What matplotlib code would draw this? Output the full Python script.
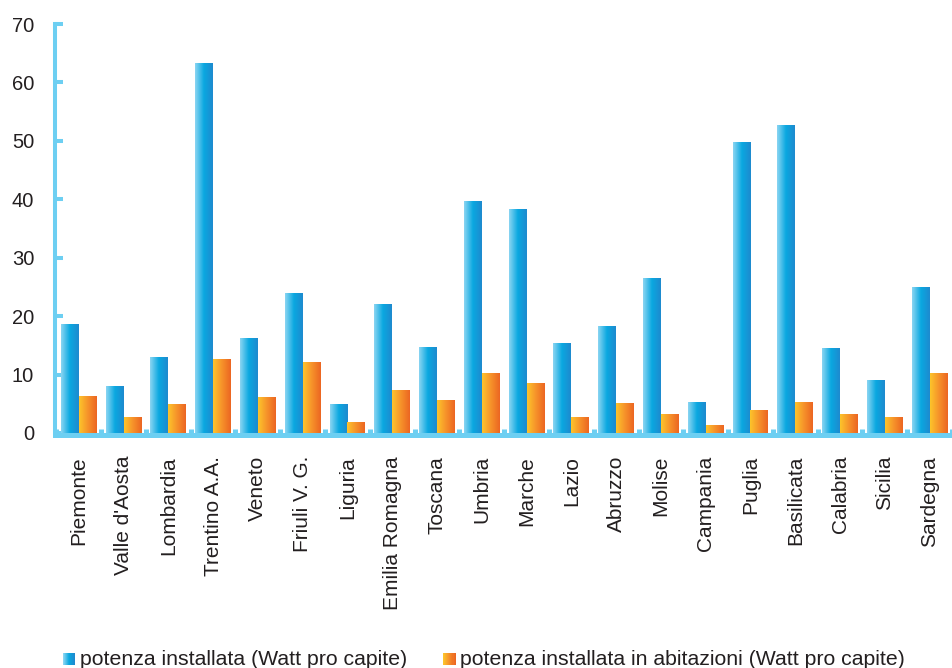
import numpy as np
import matplotlib
matplotlib.use("Agg")
import matplotlib.pyplot as plt
from matplotlib.colors import LinearSegmentedColormap
from matplotlib.patches import Rectangle
from matplotlib.legend_handler import HandlerBase

regions = ["Piemonte", "Valle d'Aosta", "Lombardia", "Trentino A.A.", "Veneto",
           "Friuli V. G.", "Liguria", "Emilia Romagna", "Toscana", "Umbria",
           "Marche", "Lazio", "Abruzzo", "Molise", "Campania", "Puglia",
           "Basilicata", "Calabria", "Sicilia", "Sardegna"]
potenza_totale = [18.6, 8.0, 13.0, 63.2, 16.2, 23.9, 4.8, 22.0, 14.7, 39.6,
                  38.2, 15.4, 18.3, 26.5, 5.3, 49.7, 52.6, 14.5, 8.9, 24.9]
potenza_abitazioni = [6.3, 2.7, 4.8, 12.6, 6.0, 12.1, 1.8, 7.3, 5.6, 10.1,
                      8.4, 2.7, 5.1, 3.2, 1.2, 3.9, 5.3, 3.1, 2.7, 10.1]
y_ticks = [0, 10, 20, 30, 40, 50, 60, 70]
legend_labels = ["potenza installata (Watt pro capite)",
                 "potenza installata in abitazioni (Watt pro capite)"]

AXIS_COL = "#6dcff2"
TEXT_COL = "#231f20"
blue_cmap = LinearSegmentedColormap.from_list(
    "blu", [(0.0, "#8ad5f2"), (0.5, "#0aa8e0"), (1.0, "#1e8acf")])
orange_cmap = LinearSegmentedColormap.from_list(
    "arancio", [(0.0, "#fdc42b"), (0.5, "#f6922a"), (1.0, "#ec6622")])

plt.rcParams["font.family"] = ["Liberation Sans", "DejaVu Sans"]

W, H = 952, 668
fig = plt.figure(figsize=(W / 100, H / 100), dpi=100)
ax = fig.add_axes([55 / W, (H - 433) / H, 1 - 55 / W, (433 - 24) / H])

x = np.arange(len(regions))
bw = 0.4
grad = np.linspace(0, 1, 64).reshape(1, -1)


def gradient_bars(xpos, values, cmap):
    bars = ax.bar(xpos, values, bw, color="none", edgecolor="none", zorder=2)
    for p in bars.patches:
        x0, y0 = p.get_x(), p.get_y()
        ax.imshow(grad, cmap=cmap, aspect="auto", interpolation="bilinear",
                  extent=[x0, x0 + p.get_width(), y0, y0 + p.get_height()],
                  zorder=2)
    return bars


gradient_bars(x - bw / 2, potenza_totale, blue_cmap)
gradient_bars(x + bw / 2, potenza_abitazioni, orange_cmap)

ax.set_xlim(-0.53, 19.33)
ax.set_ylim(0, 70)

for s in ("top", "right"):
    ax.spines[s].set_visible(False)
ax.spines["left"].set_color(AXIS_COL)
ax.spines["left"].set_linewidth(2.9)
ax.spines["bottom"].set_color(AXIS_COL)
ax.spines["bottom"].set_linewidth(3.6)
ax.spines["bottom"].set_position(("outward", 1.5))
ax.spines["bottom"].set_zorder(3)

ax.set_yticks(y_ticks)
ax.set_yticklabels([str(v) for v in y_ticks])
ax.tick_params(axis="y", direction="in", length=5.8, width=2.9,
               color=AXIS_COL, labelsize=14.5, labelcolor=TEXT_COL, pad=15)

ax.set_xticks(x)
ax.set_xticklabels(regions, rotation=90, va="top", ha="center")
ax.tick_params(axis="x", which="major", length=0, labelsize=15,
               labelcolor=TEXT_COL, pad=15)
ax.set_xticks(np.arange(-0.5, len(regions), 1.0), minor=True)
ax.tick_params(axis="x", which="minor", direction="in", length=4.6,
               width=3.6, color=AXIS_COL)


class GradientHandle(HandlerBase):
    def __init__(self, cmap):
        super().__init__()
        self.cmap = cmap

    def create_artists(self, legend, orig_handle, xdescent, ydescent,
                       width, height, fontsize, trans):
        side = height * 0.85
        n = 12
        arts = []
        for k in range(n):
            arts.append(Rectangle((-xdescent + width - side + side * k / n,
                                   -ydescent + (height - side) / 2 - 1),
                                  side / n * 1.05, side,
                                  facecolor=self.cmap(k / (n - 1)),
                                  edgecolor="none", transform=trans))
        return arts


h1 = Rectangle((0, 0), 1, 1)
h2 = Rectangle((0, 0), 1, 1)
fig.legend([h1, h2], legend_labels, loc="lower left",
           bbox_to_anchor=(54 / W, -1 / H), ncol=2, frameon=False,
           borderpad=0, borderaxespad=0,
           fontsize=15.3, handlelength=1.0, handletextpad=0.2,
           columnspacing=1.3, labelcolor=TEXT_COL,
           handler_map={h1: GradientHandle(blue_cmap),
                        h2: GradientHandle(orange_cmap)})

fig.savefig("out.png", dpi=100)
